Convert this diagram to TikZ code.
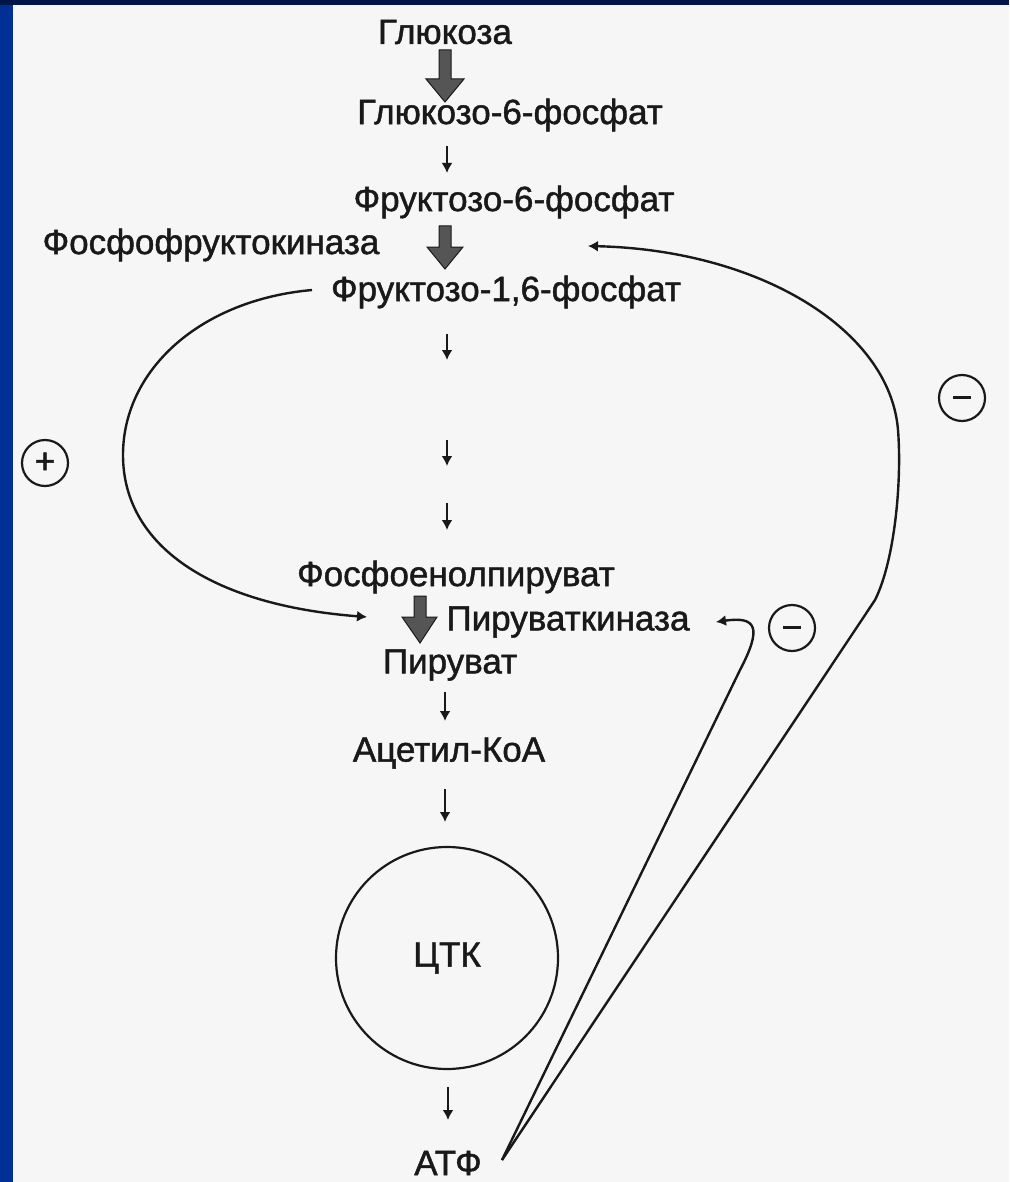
\documentclass[tikz,border=0pt]{standalone}
\usepackage{fontspec}
\setmainfont{Liberation Sans}
\newfontfamily\lblfont{Liberation Sans}[FakeBold=1.3]
\usetikzlibrary{arrows.meta}
\definecolor{bgc}{RGB}{246,246,246}
\definecolor{topbar}{RGB}{0,22,72}
\definecolor{sidebar}{RGB}{0,48,150}
\definecolor{ink}{RGB}{25,25,25}
\definecolor{thickfill}{RGB}{85,85,85}
\tikzset{
  lbl/.style={text=ink, inner sep=0pt, font=\lblfont\fontsize{35}{40}\selectfont},
  thin/.style={draw=ink, line width=2.2pt, -{Latex[length=10pt,width=11pt]}},
  fb/.style={draw=ink, line width=2.4pt, -{Latex[length=10pt,width=11pt]}},
  sign/.style={draw=ink, line width=2.2pt, circle, minimum size=46pt, inner sep=0pt, text=ink, font=\lblfont\fontsize{36}{36}\selectfont},
  thickarrow/.style={fill=thickfill, draw=ink, line width=1pt},
}
\begin{document}
\begin{tikzpicture}[x=1pt,y=-1pt]
\useasboundingbox (0,0) rectangle (1009,1182);
\fill[bgc] (0,0) rectangle (1009,1182);
\fill[sidebar] (0,0) rectangle (13,1182);
\fill[topbar] (0,0) rectangle (1009,5);

% nodes
\node[lbl] (glc) at (445,32) {Глюкоза};
\node[lbl] (g6p) at (510,115) {Глюкозо-6-фосфат};
\node[lbl] (f6p) at (514,202) {Фруктозо-6-фосфат};
\node[lbl] (pfk) at (211,245) {Фосфофруктокиназа};
\node[lbl] (f16) at (506,292) {Фруктозо-1,6-фосфат};
\node[lbl] (pep) at (456,577) {Фосфоенолпируват};
\node[lbl] (pk) at (568,622) {Пируваткиназа};
\node[lbl] (pyr) at (450,665) {Пируват};
\node[lbl] (aco) at (449,753) {Ацетил-КоА};
\node[draw=ink, line width=2.2pt, circle, minimum size=222pt, inner sep=0pt] (tca) at (447,958) {};
\node[lbl] (tcat) at (447,958) {ЦТК};
\node[lbl] (atp) at (448,1163) {АТФ};

% thick arrows
\fill[thickarrow] (439,50) -- (451,50) -- (451,79) -- (464,79) -- (445,102) -- (426,79) -- (439,79) -- cycle;
\fill[thickarrow] (439,226) -- (451,226) -- (451,247) -- (463,247) -- (445,269) -- (427,247) -- (439,247) -- cycle;
\fill[thickarrow] (414,596) -- (426,596) -- (426,617) -- (437,617) -- (420,643) -- (402,617) -- (414,617) -- cycle;

% thin arrows
\coordinate (a1s) at (447,146); \coordinate (a1e) at (447,173);
\coordinate (a2s) at (447,334); \coordinate (a2e) at (447,360);
\coordinate (a3s) at (447,440); \coordinate (a3e) at (447,466);
\coordinate (a4s) at (447,503); \coordinate (a4e) at (447,530);
\coordinate (a5s) at (445,692); \coordinate (a5e) at (445,721);
\coordinate (a6s) at (445,789); \coordinate (a6e) at (445,822);
\coordinate (a7s) at (448,1087); \coordinate (a7e) at (448,1120);
\foreach \i in {1,...,7} { \draw[thin] (a\i s) -- (a\i e); }

% feedback curves
\coordinate (plusend) at (367,617);
\coordinate (f16w) at (312,290);
\draw[fb] (f16w) .. controls (200,300) and (123,370) .. (123,455)
  .. controls (123,545) and (210,605) .. (plusend);

\coordinate (atpne) at (502,1160);
\coordinate (pfkin) at (588,246);
\coordinate (pkin) at (716,622);
\draw[fb] (atpne) -- (875,600) .. controls (895,560) and (902,480) .. (898,430)
  .. controls (890,330) and (760,250) .. (pfkin);
\draw[fb] (atpne) -- (740,670) .. controls (762,628) and (757,616) .. (pkin);

% signs
\node[sign] (plus) at (45,463) {+};
\node[sign] (minus1) at (962,398) {\raisebox{1pt}{\rule{18pt}{3.5pt}}};
\node[sign] (minus2) at (792,628) {\raisebox{1pt}{\rule{18pt}{3.5pt}}};
\end{tikzpicture}
\end{document}
